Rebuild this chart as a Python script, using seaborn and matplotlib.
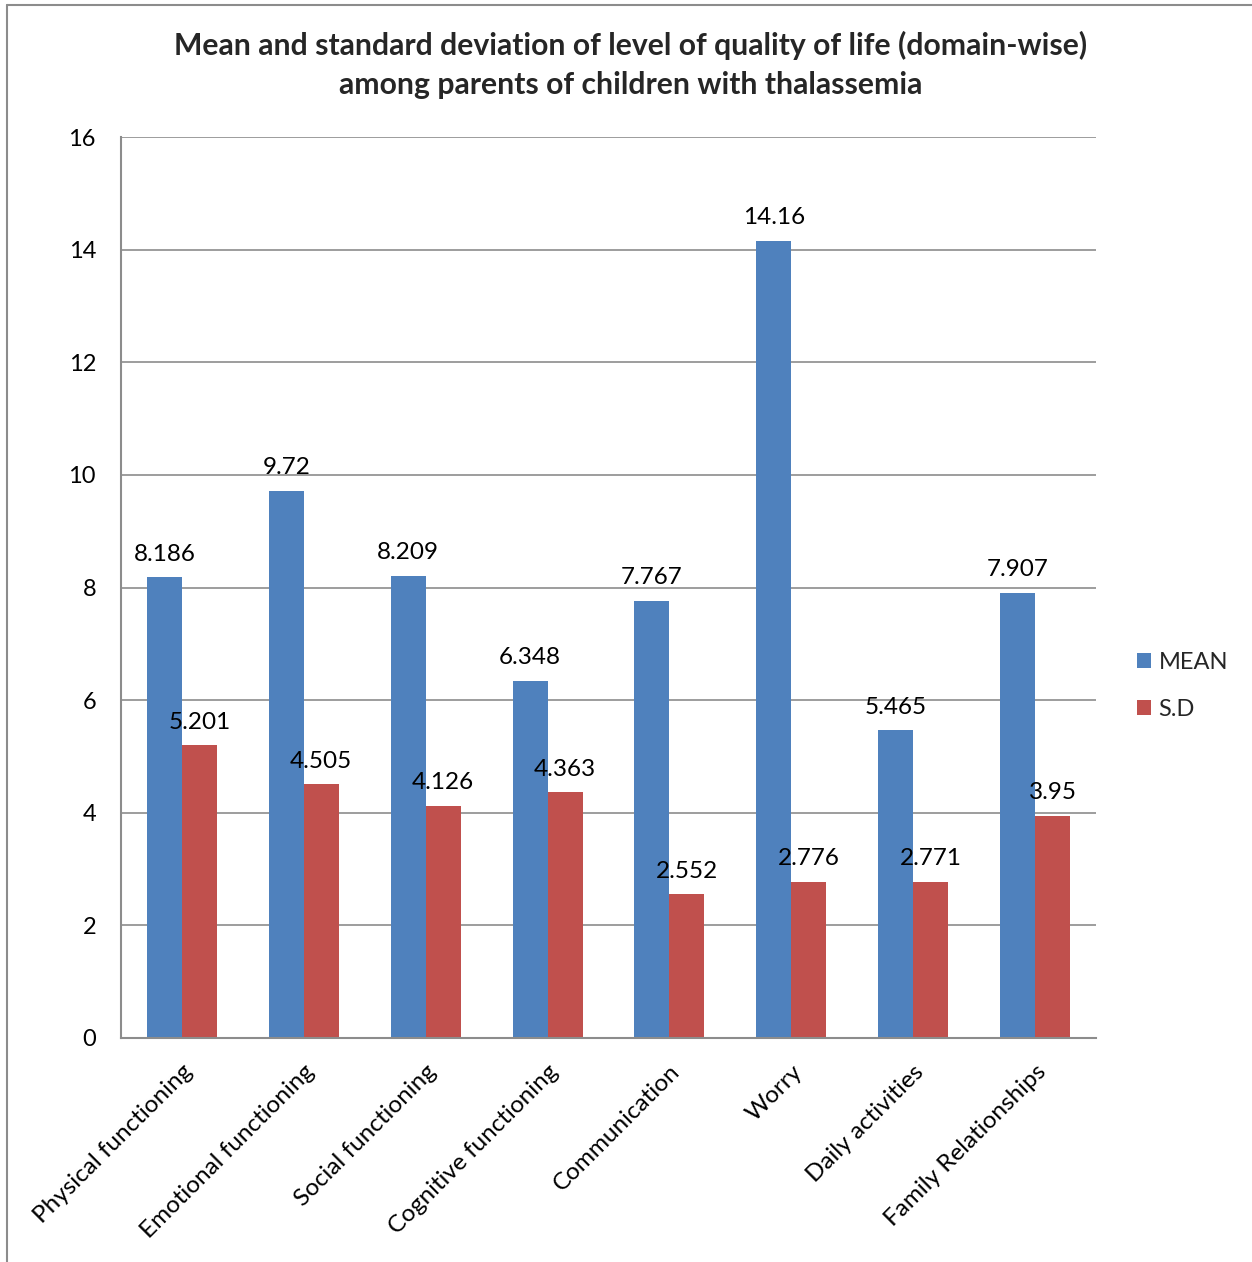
import matplotlib
matplotlib.use("Agg")
import matplotlib.pyplot as plt
import seaborn as sns
import pandas as pd
from matplotlib.lines import Line2D
from matplotlib.patches import Patch

categories = ["Physical functioning", "Emotional functioning", "Social functioning",
              "Cognitive functioning", "Communication", "Worry", "Daily activities",
              "Family Relationships"]
mean_vals = [8.186, 9.72, 8.209, 6.348, 7.767, 14.16, 5.465, 7.907]
sd_vals = [5.201, 4.505, 4.126, 4.363, 2.552, 2.776, 2.771, 3.95]
mean_labels = ["8.186", "9.72", "8.209", "6.348", "7.767", "14.16", "5.465", "7.907"]
sd_labels = ["5.201", "4.505", "4.126", "4.363", "2.552", "2.776", "2.771", "3.95"]
series = ["MEAN", "S.D"]
colors = ["#4F81BD", "#C0504D"]

df = pd.DataFrame({
    "Domain": categories * 2,
    "Value": mean_vals + sd_vals,
    "Series": [series[0]] * len(categories) + [series[1]] * len(categories),
})

sns.set_theme(style="white")
plt.rcParams["font.family"] = ["Lato", "DejaVu Sans"]

fig = plt.figure(figsize=(12.52, 12.62), dpi=100)
ax = fig.add_axes([121 / 1252, 1 - 1038 / 1262, (1096 - 121) / 1252, (1038 - 137) / 1262])

sns.barplot(data=df, x="Domain", y="Value", hue="Series", palette=colors,
            width=0.574, gap=0, ax=ax, legend=False, saturation=1, edgecolor="none")

ax.set_ylim(0, 16)
ax.set_xlim(-0.5, len(categories) - 0.5)
ax.set_yticks(range(0, 17, 2))
ax.yaxis.grid(True, color="#8c8c8c", linewidth=1.2)
ax.set_axisbelow(True)
ax.set_xlabel("")
ax.set_ylabel("")
for s in ["top", "right"]:
    ax.spines[s].set_visible(False)
for s in ["left", "bottom"]:
    ax.spines[s].set_color("#8c8c8c")
    ax.spines[s].set_linewidth(1.5)

ax.tick_params(axis="y", labelsize=17, length=0, pad=18, colors="black")
ax.tick_params(axis="x", length=0)
ax.set_xticks(range(len(categories)))
ax.set_xticklabels(categories, rotation=45, ha="right", rotation_mode="anchor",
                   fontsize=17.5, color="black")
for lbl in ax.get_xticklabels():
    lbl.set_y(-0.02)

labels_all = [mean_labels, sd_labels]
for container, labs in zip(ax.containers, labels_all):
    ax.bar_label(container, labels=labs, padding=9, fontsize=17.5, color="black")

handles = [Patch(facecolor=c, edgecolor="none") for c in colors]
fig.legend(handles, series, loc="center left", bbox_to_anchor=(1116 / 1252, 1 - 686 / 1262),
           frameon=False, fontsize=17, handlelength=0.6, handleheight=0.6,
           handletextpad=0.3, labelspacing=1.1)

fig.text(631 / 1252, 1 - 65 / 1262,
         "Mean and standard deviation of level of quality of life (domain-wise)\namong parents of children with thalassemia",
         ha="center", va="center", fontsize=21.7, fontweight="bold", linespacing=1.5)

fig.add_artist(Line2D([7 / 1252, 7 / 1252], [0, 1 - 5 / 1262], color="#8c8c8c", linewidth=1.5))
fig.add_artist(Line2D([7 / 1252, 1], [1 - 5 / 1262, 1 - 5 / 1262], color="#8c8c8c", linewidth=1.5))

fig.savefig("out.png", dpi=100, facecolor="white")
